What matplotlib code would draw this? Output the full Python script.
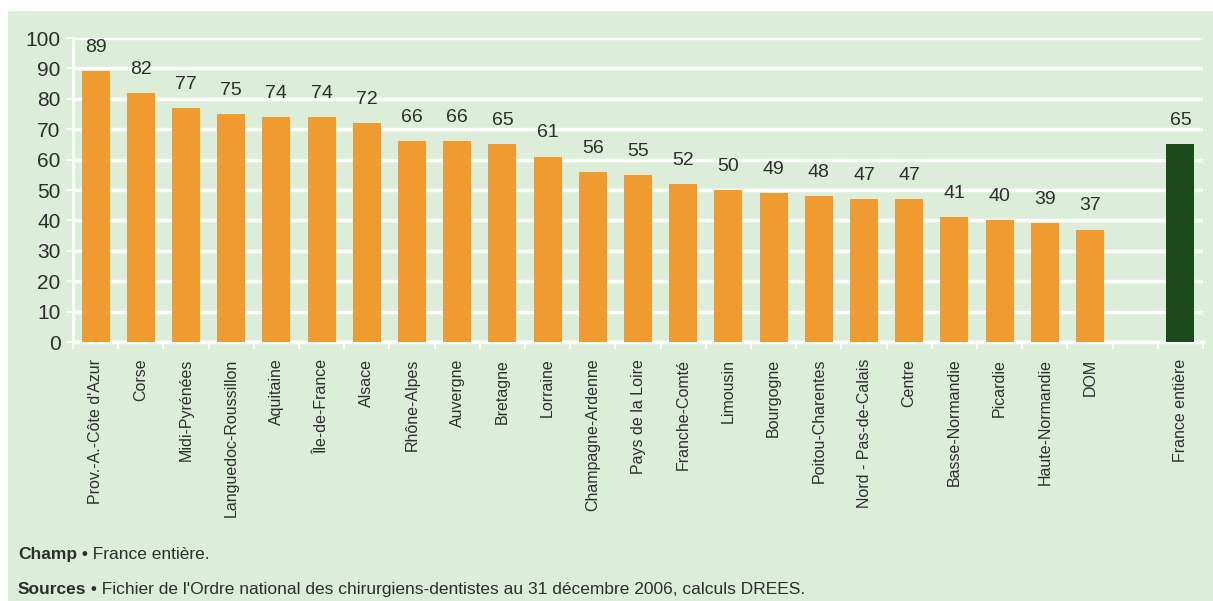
import matplotlib
matplotlib.use('Agg')
import matplotlib.pyplot as plt
from matplotlib.patches import Rectangle
from matplotlib.font_manager import fontManager

regions = ["Prov.-A.-Côte d'Azur", "Corse", "Midi-Pyrénées", "Languedoc-Roussillon",
           "Aquitaine", "Île-de-France", "Alsace", "Rhône-Alpes", "Auvergne", "Bretagne",
           "Lorraine", "Champagne-Ardenne", "Pays de la Loire", "Franche-Comté", "Limousin",
           "Bourgogne", "Poitou-Charentes", "Nord - Pas-de-Calais", "Centre",
           "Basse-Normandie", "Picardie", "Haute-Normandie", "DOM"]
values = [89, 82, 77, 75, 74, 74, 72, 66, 66, 65, 61, 56, 55, 52, 50, 49, 48, 47, 47,
          41, 40, 39, 37]
total_label = "France entière"
total_value = 65

# narrow font for the chart, if installed
names = {f.name for f in fontManager.ttflist}
narrow = 'Liberation Sans Narrow' if 'Liberation Sans Narrow' in names else 'Liberation Sans'

bg = '#dcedda'
orange = '#f09b30'
dark = '#1b4a1d'
txt = '#2e2e2e'

fig = plt.figure(figsize=(12.13, 6.01), dpi=100, facecolor='white')
fig.patches.append(Rectangle((8 / 1213, 0), 1, 1 - 11 / 601, transform=fig.transFigure,
                             facecolor=bg, edgecolor='none', zorder=-10))

ax = fig.add_axes([73 / 1213, 1 - 342 / 601, 1130 / 1213, 304 / 601])
ax.set_facecolor(bg)

xs = list(range(len(regions)))
ax.bar(xs, values, width=0.62, color=orange, zorder=3)
x_total = len(regions) + 1
ax.bar([x_total], [total_value], width=0.62, color=dark, zorder=3)

for x, v in zip(xs + [x_total], values + [total_value]):
    ax.text(x, v + 5, str(v), ha='center', va='bottom', fontsize=14,
            family=narrow, color=txt)

ax.set_xlim(-0.5, x_total + 0.5)
ax.set_ylim(0, 100)
ax.set_yticks(range(0, 101, 10))
ax.set_yticklabels([str(t) for t in range(0, 101, 10)], family=narrow, fontsize=15, color=txt)
ax.set_xticks(xs + [x_total])
ax.set_xticklabels(regions + [total_label], rotation=90, family=narrow, fontsize=11.5,
                   color=txt)
ax.set_xticks([x + 0.5 for x in range(-1, x_total + 1)], minor=True)
ax.tick_params(axis='x', which='major', length=0, pad=12)
ax.tick_params(axis='x', which='minor', length=5, color='white', width=1.2, direction='out')
ax.tick_params(axis='y', length=5, color='white', width=1.2, pad=4)

ax.grid(axis='y', color='white', linewidth=2.5, zorder=0)
for s in ['top', 'right']:
    ax.spines[s].set_visible(False)
ax.spines['left'].set_color('white')
ax.spines['bottom'].set_color('white')
ax.spines['left'].set_linewidth(2)
ax.spines['bottom'].set_linewidth(2.5)

# footnotes: bold lead word, then the rest aligned on the same line
t1 = fig.text(18 / 1213, 1 - 562 / 601, "Champ", fontsize=12.5, fontweight='bold',
              family='Liberation Sans', color=txt, va='bottom')
ax.annotate(" • France entière.", xy=(1, 0), xycoords=t1, va='bottom', fontsize=12.5,
            family='Liberation Sans', color=txt, annotation_clip=False)
t2 = fig.text(18 / 1213, 1 - 597 / 601, "Sources", fontsize=12.5, fontweight='bold',
              family='Liberation Sans', color=txt, va='bottom')
ax.annotate(" • Fichier de l'Ordre national des chirurgiens-dentistes au 31 décembre 2006, calculs DREES.",
            xy=(1, 0), xycoords=t2, va='bottom', fontsize=12.5,
            family='Liberation Sans', color=txt, annotation_clip=False)

fig.savefig('out.png', dpi=100, facecolor=fig.get_facecolor())
